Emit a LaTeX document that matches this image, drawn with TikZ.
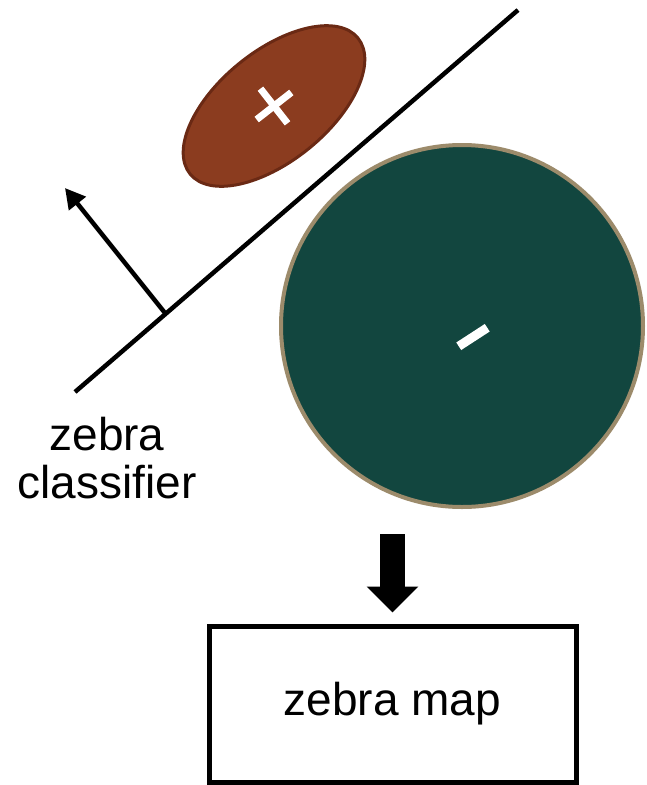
\documentclass[tikz,border=0pt]{standalone}
\usepackage{fontspec}
\setmainfont{Liberation Sans}
\usetikzlibrary{arrows.meta,shapes.geometric}
\definecolor{rust}{HTML}{8B3C1F}
\definecolor{rustedge}{HTML}{6A2914}
\definecolor{pine}{HTML}{12463F}
\definecolor{sand}{HTML}{9C8B6B}
\begin{document}
\begin{tikzpicture}[x=1pt,y=-1pt,
    sign/.style={white,line width=7pt},
    blockarrow/.style={line width=25pt,-{Triangle[length=26pt,width=50pt]}}]
\useasboundingbox (0,0) rectangle (646,785);
% decision boundary and its normal
\coordinate (lo) at (75,392);
\coordinate (hi) at (518,10);
\coordinate (foot) at (165,313);
\coordinate (tip) at (65,188);
     \draw[line width=4.5pt] (lo) -- (hi);
     \draw[line width=4.5pt,-{Triangle[length=20pt,width=21pt]}] (foot) -- (tip);
% positive class
\node[ellipse,minimum width=216pt,minimum height=110pt,rotate=39,
      fill=rust,draw=rustedge,line width=3pt] (pos) at (274,106) {};
\foreach \a in {-38,-128}
    \draw[sign] ([shift={(\a:22)}]pos.center) -- ([shift={(\a+180:22)}]pos.center);
% negative class
\node[circle,minimum size=362pt,fill=pine,draw=sand,line width=4pt] (neg) at (462,326) {};
    \draw[sign,line width=9pt] ([shift={(-33:17)}]473,337) -- ([shift={(147:17)}]473,337);
\node[align=center,font=\fontsize{46}{48}\selectfont] (clf) at (107,458) {zebra\\classifier};
% output
\node[draw,line width=5pt,minimum width=367pt,minimum height=156pt,
      font=\fontsize{46}{48}\selectfont] (map) at (392.5,704) {zebra map};
\coordinate (drop) at (392.5,534);
    \draw[blockarrow] (drop) -- ([yshift=11pt]map.north);
    \end{tikzpicture}
\end{document}
